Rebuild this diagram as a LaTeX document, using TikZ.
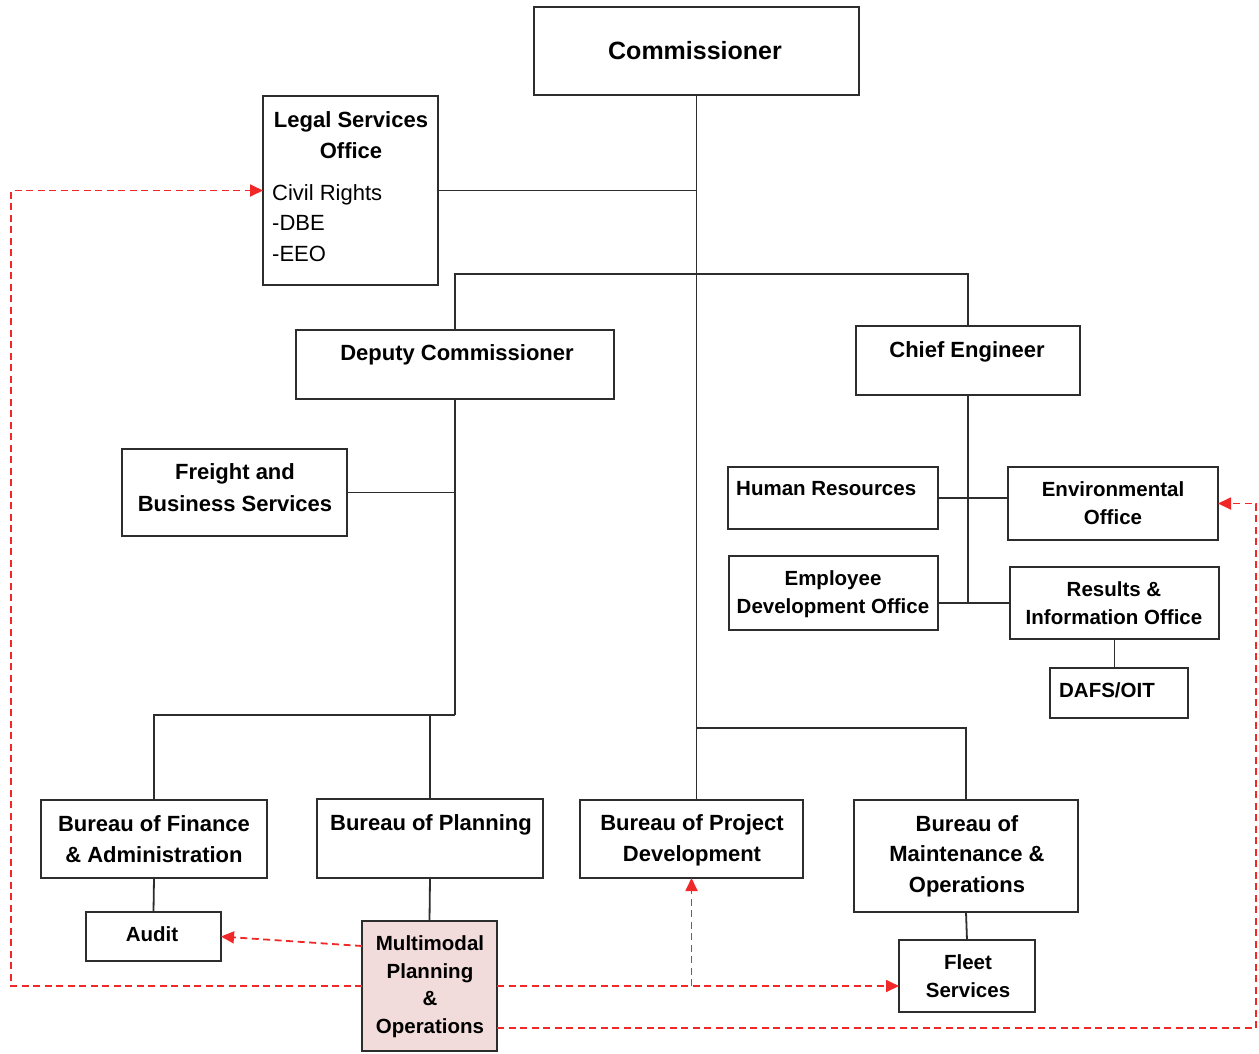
\documentclass[tikz,border=0pt]{standalone}
\usepackage{fontspec}
\setmainfont{Liberation Sans}
\usetikzlibrary{arrows.meta}
\definecolor{boxc}{RGB}{45,45,45}
\definecolor{linkred}{RGB}{240,40,40}
\definecolor{mpofill}{RGB}{242,220,219}
\begin{document}
\begin{tikzpicture}[x=1pt,y=-1pt,
  box/.style={draw=boxc, line width=1.9pt, inner sep=0pt, outer sep=0pt, rectangle},
  conn/.style={draw=boxc, line width=1.8pt},
  link/.style={draw=linkred, line width=1.8pt, dash pattern=on 7pt off 4.5pt},
  tip/.style={-{Triangle[length=13pt,width=12pt,fill=linkred]}},
  big/.style={font=\fontsize{22}{31}\selectfont\bfseries, inner sep=0pt, align=center, anchor=north},
  small/.style={font=\fontsize{20.5}{28}\selectfont\bfseries, inner sep=0pt, align=center, anchor=north}
]
\useasboundingbox (0,0) rectangle (1259,1053);

% boxes
\node[box, minimum width=325pt, minimum height=88pt] (com) at (696.5,51) {};
\node[box, minimum width=175pt, minimum height=189pt] (legal) at (350.5,190.5) {};
\node[box, minimum width=318pt, minimum height=69pt] (dep) at (455,364.5) {};
\node[box, minimum width=224pt, minimum height=69pt] (chief) at (968,360.5) {};
\node[box, minimum width=225pt, minimum height=87pt] (freight) at (234.5,492.5) {};
\node[box, minimum width=210pt, minimum height=62pt] (hr) at (833,498) {};
\node[box, minimum width=210pt, minimum height=73pt] (env) at (1113,503.5) {};
\node[box, minimum width=209pt, minimum height=74pt] (edo) at (833.5,593) {};
\node[box, minimum width=209pt, minimum height=72pt] (rio) at (1114.5,603) {};
\node[box, minimum width=138pt, minimum height=50pt] (dafs) at (1119,693) {};
\node[box, minimum width=226pt, minimum height=78pt] (bfa) at (154,839) {};
\node[box, minimum width=135pt, minimum height=49pt] (audit) at (153.5,936.5) {};
\node[box, minimum width=226pt, minimum height=79pt] (bop) at (430,838.5) {};
\node[box, fill=mpofill, minimum width=135pt, minimum height=130pt] (mpo) at (429.5,986) {};
\node[box, minimum width=223pt, minimum height=78pt] (bpd) at (691.5,839) {};
\node[box, minimum width=224pt, minimum height=112pt] (bmo) at (966,856) {};
\node[box, minimum width=136pt, minimum height=72pt] (fleet) at (967,976) {};

% texts
\node[font=\fontsize{25}{30}\selectfont\bfseries, inner sep=0pt] (comT) at (695,51) {Commissioner};
\node[big] (legalT) at (351,111) {Legal Services\\Office};
\node[font=\fontsize{22}{30.5}\selectfont, inner sep=0pt, align=left, anchor=north west] (civT) at (272,184) {Civil Rights\\-DBE\\-EEO};
\node[big] (depT) at (457,344) {Deputy Commissioner};
\node[big] (chiefT) at (967,341) {Chief Engineer};
\node[big, font=\fontsize{22}{32}\selectfont\bfseries] (freightT) at (235,463) {Freight and\\Business Services};
\node[small, anchor=north west] (hrT) at (736,481.5) {Human Resources};
\node[small] (envT) at (1113,481.5) {Environmental\\Office};
\node[small] (edoT) at (833,570.5) {Employee\\Development Office};
\node[small] (rioT) at (1114,581.5) {Results \&\\Information Office};
\node[small] (dafsT) at (1107,682.5) {DAFS/OIT};
\node[big] (bfaT) at (154,815) {Bureau of Finance\\\& Administration};
\node[small] (auditT) at (152,926.5) {Audit};
\node[big] (bopT) at (431,814) {Bureau of Planning};
\node[small, font=\fontsize{20.5}{27.7}\selectfont\bfseries] (mpoT) at (430,935.5) {Multimodal\\Planning\\\&\\Operations};
\node[big] (bpdT) at (692,814) {Bureau of Project\\Development};
\node[big, font=\fontsize{22}{30.5}\selectfont\bfseries] (bmoT) at (967,815) {Bureau of\\Maintenance \&\\Operations};
\node[small] (fleetT) at (968,954.5) {Fleet\\Services};

% solid connectors
\coordinate (bar) at (697,274);
\coordinate (dbar) at (455,715);
\coordinate (pbar) at (697,728);
\draw[conn] (com.south) -- (com.south |- bpd.north);
\draw[conn] (legal.east) -- (legal.east -| com.south);
\draw[conn] (dep.north) -- (dep.north |- bar) -- (chief.north |- bar) -- (chief.north);
\draw[conn] (freight.east) -- (freight.east -| dep.south);
\draw[conn] (dep.south) -- (dbar);
\draw[conn] (bfa.north) -- (bfa.north |- dbar) -- (dbar);
\draw[conn] (bop.north) -- (bop.north |- dbar);
\draw[conn] (bfa.south) -- (audit.north);
\draw[conn] (bop.south) -- (mpo.north);
\draw[conn] (pbar) -- (pbar -| bmo.north) -- (bmo.north);
\draw[conn] (bmo.south) -- (fleet.north);
\draw[conn] (chief.south) -- (chief.south |- rio.west);
\draw[conn] (hr.east) -- (hr.east -| env.west);
\draw[conn] (rio.west) -- (rio.west -| edo.east);
\draw[conn] (rio.south) -- (rio.south |- dafs.north);

% red dashed links
\coordinate (lx) at (11,0);
\coordinate (rx) at (1256,0);
\draw[link, tip] (mpo.west) -| (lx |- legal.west) -- (legal.west);
\draw[link, tip] ([yshift=40pt]mpo.west) -- (audit.east);
\draw[link, tip] (mpo.east) -- (mpo.east -| fleet.west);
\draw[link, tip] (bpd.south |- mpo.east) -- (bpd.south);
\draw[link, tip] ([yshift=-42pt]mpo.east) -| (rx |- env.east) -- (env.east);
\end{tikzpicture}
\end{document}
